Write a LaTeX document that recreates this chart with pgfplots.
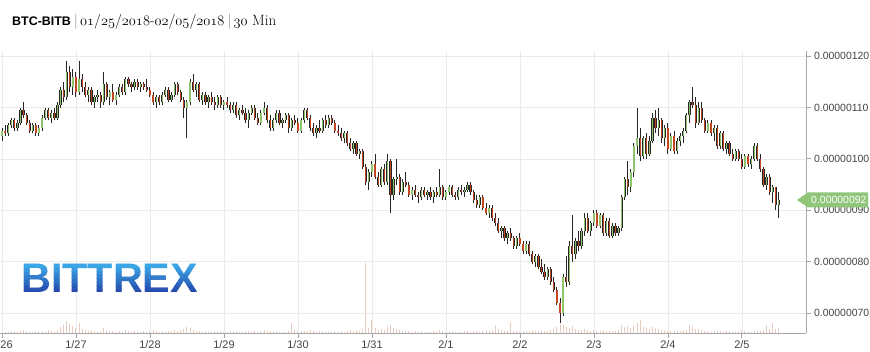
\documentclass[border=0pt]{standalone}
\usepackage{pgfplots}
\pgfplotsset{compat=1.18}
\usepackage{pgfplotstable}
\usepackage{fontspec}
\setsansfont{Liberation Sans}
\definecolor{gridc}{HTML}{EBEBEB}
\definecolor{axisc}{HTML}{A6A6A6}
\definecolor{labc}{HTML}{444444}
\definecolor{wick}{HTML}{262626}
\definecolor{upc}{HTML}{8CC36B}
\definecolor{dnc}{HTML}{C2461F}
\definecolor{volc}{HTML}{E6CBBE}
\definecolor{tagc}{HTML}{8FC67A}
\definecolor{logotop}{HTML}{3BA6E6}
\definecolor{logobot}{HTML}{2549AC}
\newcommand\osn[1]{$\mathnormal{#1}$}

\pgfplotstableread{
t o hi lo c v
0 104.5 106 103.5 105.5 2
1 105.5 106.5 104.5 105 1
2 105 107 104.5 106.5 1
3 106.5 108 106 107.5 2
4 107.5 108 105.5 106 1
5 106 107.5 105.5 107 1
6 107 110 106.5 109.5 2
7 109.5 111 108 108.5 3
8 108.5 109 106.5 107 2
9 107 107.5 105 105.5 1
10 105.5 107 105 106.5 1
11 106.5 107 104.5 105 2
12 105 106.5 104.5 106 1
13 106 108.5 105.5 108 2
14 108 110 107.5 109.5 1
15 109.5 110 107.5 108 3
16 108 109.5 107 109 2
17 109 110 107.5 108 1
18 108 111 107.5 110.5 3
19 110.5 114 110 113.5 6
20 113.5 115 111 112 8
21 112 119 111.5 117 12
22 117 118 113 114 9
23 114 117.5 112.5 116 7
24 116 117 112 113 5
25 113 119 112.5 115.5 10
26 115.5 116.5 113 114 4
27 114 115 112 112.5 3
28 112.5 114 111 113.5 2
29 113.5 114 110.5 111 3
30 111 112.5 110 112 2
31 112 113.5 111 112.5 1
32 112.5 113 110 111 2
33 111 117 110.5 114.5 5
34 114.5 115 111.5 112 3
35 112 113.5 110.5 113 2
36 113 114.5 111 111.5 2
37 111.5 113 110.5 112.5 1
38 112.5 114.5 112 114 2
39 114 114.5 112.5 113 1
40 113 116 112.5 115.5 3
41 115.5 116 114 114.5 2
42 114.5 115 113 114 1
43 114 115.5 113.5 115 2
44 115 115.5 113.5 114 1
45 114 115 113 114.5 1
46 114.5 115 113.5 114 2
47 114 115.5 113 113.5 1
48 113.5 114 112 112.5 2
49 112.5 113 110.5 111 3
50 111 112.5 110 112 2
51 112 112.5 110.5 111 1
52 111 113 110.5 112.5 2
53 112.5 114 112 113.5 1
54 113.5 114 111 111.5 2
55 111.5 113 111 112.5 2
56 112.5 115 112 114.5 3
57 114.5 115 112.5 113 2
58 113 113.5 111 111.5 3
59 111.5 112 108 110 4
60 110 111.5 104 111 6
61 111 115.5 110.5 115 5
62 115 116.5 113 113.5 3
63 113.5 115 112 114.5 2
64 114.5 115 111 111.5 2
65 111.5 113 110.5 112.5 1
66 112.5 113 110.5 111 2
67 111 112.5 110 112 1
68 112 113 110.5 111 1
69 111 112 109.5 110.5 2
70 110.5 112.5 110 112 1
71 112 112.5 110 110.5 2
72 110.5 111.5 109.5 111 1
73 111 112 110 110.5 1
74 110.5 111 109 109.5 2
75 109.5 111 109 110.5 1
76 110.5 111 108 108.5 2
77 108.5 110 107.5 109.5 1
78 109.5 110.5 108.5 109 1
79 109 110 107 107.5 2
80 107.5 109.5 106 109 2
81 109 110.5 108.5 110 1
82 110 110.5 107.5 108 2
83 108 109 106.5 107 1
84 107 109.5 106.5 109 2
85 109 111 108.5 110 3
86 110 110.5 107 107.5 2
87 107.5 108.5 105.5 106 2
88 106 108 105.5 107.5 1
89 107.5 109.5 107 109 2
90 109 109.5 106.5 107 1
91 107 108 106 107.5 1
92 107.5 109 107 108.5 1
93 108.5 109 105 106 2
94 106 108 105.5 107.5 10
95 107.5 108.5 106.5 107 3
96 107 108 105 105.5 2
97 105.5 108 105 107.5 2
98 107.5 110 107 109.5 2
99 109.5 110 107.5 108 2
100 108 108.5 105.5 106 3
101 106 107 104.5 105 2
102 105 106.5 104 106 1
103 106 107.5 105 105.5 2
104 105.5 108 105 107.5 2
105 107.5 108.5 106 106.5 1
106 106.5 108.5 106 108 1
107 108 108.5 106.5 107 1
108 107 107.5 105 105.5 2
109 105.5 106.5 104.5 105 1
110 105 106 103.5 104 2
111 104 105.5 103 105 1
112 105 105.5 102.5 103 2
113 103 104 101.5 102 3
114 102 103.5 101 103 2
115 103 103.5 100.5 101 3
116 101 102 100 101.5 2
117 101.5 102 98 98.5 4
118 98.5 99 95 95.5 70
119 95.5 98 94 97.5 5
120 97.5 99.5 96.5 99 13
121 99 101 96 96.5 5
122 96.5 97.5 94.5 95 3
123 95 98.5 94.5 98 4
124 98 99 95 95.5 3
125 95.5 101 95 99.5 6
126 99.5 100 89.5 93 8
127 93 96.5 92 96 5
128 96 100 95 96.5 4
129 96.5 97 93 93.5 3
130 93.5 96 93 95.5 2
131 95.5 97.5 94.5 95 2
132 95 95.5 92.5 93 2
133 93 94.5 92 94 1
134 94 95 92.5 93 2
135 93 93.5 91.5 92.5 1
136 92.5 94.5 92 94 2
137 94 94.5 92.5 93 1
138 93 94 92 93.5 1
139 93.5 94.5 92 92.5 1
140 92.5 94 91.5 93.5 2
141 93.5 94.5 92.5 93 1
142 93 98 92.5 94.5 3
143 94.5 95 92 92.5 2
144 92.5 94 92 93.5 1
145 93.5 95 93 94.5 1
146 94.5 95 92.5 93 2
147 93 93.5 92 92.5 1
148 92.5 94.5 92 94 1
149 94 95 93 93.5 1
150 93.5 94.5 92.5 94 2
151 94 95.5 93.5 95 2
152 95 95.5 93 93.5 1
153 93.5 94 91.5 92 2
154 92 93 90.5 91 2
155 91 93 90.5 92.5 1
156 92.5 93 90 90.5 2
157 90.5 91.5 89 89.5 3
158 89.5 91 88.5 90.5 2
159 90.5 91 88 88.5 3
160 88.5 89.5 87 87.5 8
161 87.5 88.5 85.5 86 4
162 86 87 84.5 86.5 3
163 86.5 87 84 84.5 2
164 84.5 86 83.5 85.5 2
165 85.5 86.5 84 84.5 11
166 84.5 85 82.5 83 2
167 83 85 82.5 84.5 2
168 84.5 85.5 83 83.5 1
169 83.5 84 81.5 82 2
170 82 84 81.5 83.5 2
171 83.5 84 81 81.5 2
172 81.5 82 79.5 80 3
173 80 81.5 79 81 2
174 81 81.5 78.5 79 2
175 79 80.5 77.5 78 3
176 78 79.5 76.5 77 2
177 77 79 76.5 78.5 2
178 78.5 79 75.5 76 3
179 76 77 74 74.5 4
180 74.5 75 71.5 72 6
181 72 73 68 70 9
182 70 77.5 69.5 77 8
183 77 81 75 76 6
184 76 84 75.5 83 5
185 83 89 80 81.5 7
186 81.5 84.5 80.5 84 4
187 84 86 82 83 3
188 83 86.5 82.5 86 3
189 86 89.5 85 88.5 4
190 88.5 89.5 85.5 86 3
191 86 88 85 87.5 2
192 87.5 90 87 89.5 3
193 89.5 90 86.5 87 2
194 87 89.5 86.5 89 2
195 89 89.5 85 85.5 3
196 85.5 88.5 85 88 2
197 88 88.5 84.5 85 2
198 85 87.5 84.5 87 2
199 87 87.5 85 85.5 2
200 85.5 87 85 86.5 3
201 86.5 93 86 92.5 8
202 92.5 96.5 92 96 6
203 96 99.5 93 94.5 7
204 94.5 98 93.5 97.5 5
205 97.5 103 96.5 102.5 7
206 102.5 110 101 104 10
207 104 106 99.5 100.5 13
208 100.5 104.5 100 104 6
209 104 105 100 101 5
210 101 104.5 100.5 103.5 4
211 103.5 109 103 108 6
212 108 109.5 105 106 5
213 106 110 104.5 107.5 4
214 107.5 108 103 104 3
215 104 106.5 102.5 106 3
216 106 107 101 102 2
217 102 105 101.5 104.5 2
218 104.5 105.5 101 101.5 2
219 101.5 104 101 103.5 2
220 103.5 105 102.5 104.5 2
221 104.5 106 103 105.5 3
222 105.5 109 105 108.5 3
223 108.5 111.5 107 111 8
224 111 114 110 110.5 6
225 110.5 112 106 107 4
226 107 111 106.5 110 4
227 110 111 107 107.5 3
228 107.5 108 105 105.5 2
229 105.5 107.5 105 107 2
230 107 107.5 104.5 105 1
231 105 106.5 103.5 106 2
232 106 106.5 102 102.5 2
233 102.5 105.5 102 105 2
234 105 105.5 101.5 102 1
235 102 103.5 101 103 2
236 103 103.5 100.5 101 2
237 101 102 99.5 100 1
238 100 102 99.5 101.5 1
239 101.5 102 99.5 100 2
240 100 101 98 98.5 3
241 98.5 101 98 100.5 2
242 100.5 101 98.5 99 1
243 99 100.5 98 100 1
244 100 103 99.5 102.5 2
245 102.5 103 99.5 100 2
246 100 101 97.5 98 2
247 98 98.5 94.5 95 3
248 95 97 94 96.5 8
249 96.5 97 93 93.5 4
250 93.5 95 91.5 94.5 10
251 94.5 94.5 90 91 4
252 91 93.5 88.5 92 5
}\candles

\begin{document}
\begin{tikzpicture}
\useasboundingbox (0bp,0bp) rectangle (870bp,352bp);
% volume
\begin{axis}[
  at={(0bp,19bp)}, anchor=south west, scale only axis,
  width=806bp, height=282bp,
  xmin=-0.65, xmax=260.8, ymin=0, ymax=282, hide axis]
\addplot[ycomb, volc, line width=1bp, mark=none] table[x=t, y=v] {\candles};
\end{axis}
% price
\begin{axis}[
  at={(0bp,19bp)}, anchor=south west, scale only axis,
  width=806bp, height=282bp,
  xmin=-0.65, xmax=260.8, ymin=66.1, ymax=121,
  axis x line*=bottom, axis y line*=right,
  axis line style={axisc, line width=0.8bp},
  xtick={0,24,...,240},
  xticklabels={1/26,1/27,1/28,1/29,1/30,1/31,2/1,2/2,2/3,2/4,2/5},
  ytick={70,80,...,120},
  yticklabels={0.00000070,0.00000080,0.00000090,0.00000100,0.00000110,0.00000120},
  grid=major, grid style={gridc, line width=0.6bp},
  tick align=outside, major tick length=4.5bp,
  tick style={axisc, line width=0.8bp},
  xticklabel style={font=\sffamily\fontsize{11}{12}\selectfont, text=labc},
  yticklabel style={font=\sffamily\fontsize{10.5}{12}\selectfont, text=labc},
]
% wicks
\addplot[draw=none, mark=none, forget plot,
  error bars/.cd, y dir=plus, y explicit, error mark=none,
  error bar style={draw=wick, line width=1bp}]
  table[x=t, y=lo, y error plus expr={\thisrow{hi}-\thisrow{lo}}] {\candles};
% body outlines
\addplot[draw=none, mark=none, forget plot,
  error bars/.cd, y dir=plus, y explicit, error mark=none,
  error bar style={draw=wick, line width=2.2bp}]
  table[x=t, y expr={min(\thisrow{o},\thisrow{c})},
        y error plus expr={abs(\thisrow{c}-\thisrow{o})}] {\candles};
% up bodies
\addplot[draw=none, mark=none, forget plot, restrict y to domain=0:500,
  error bars/.cd, y dir=plus, y explicit, error mark=none,
  error bar style={draw=upc, line width=1.2bp}]
  table[x=t, y expr={\thisrow{c}>=\thisrow{o} ? \thisrow{o} : -1000},
        y error plus expr={\thisrow{c}-\thisrow{o}}] {\candles};
% down bodies
\addplot[draw=none, mark=none, forget plot, restrict y to domain=0:500,
  error bars/.cd, y dir=plus, y explicit, error mark=none,
  error bar style={draw=dnc, line width=1.2bp}]
  table[x=t, y expr={\thisrow{c}<\thisrow{o} ? \thisrow{c} : -1000},
        y error plus expr={\thisrow{o}-\thisrow{c}}] {\candles};
\coordinate (tagpt) at (axis cs:260.8,92);
\end{axis}
% price tag
\fill[tagc] ([xshift=-9bp]tagpt) -- ([xshift=2bp,yshift=7.5bp]tagpt) -- ([xshift=62bp,yshift=7.5bp]tagpt)
  -- ([xshift=62bp,yshift=-7.5bp]tagpt) -- ([xshift=2bp,yshift=-7.5bp]tagpt) -- cycle;
\node[anchor=west, text=white, inner sep=0, font=\sffamily\fontsize{10.5}{12}\selectfont] at ([xshift=5bp]tagpt) {0.00000092};
% title
\node[anchor=base west, inner sep=0] at (12bp,326bp)
  {{\sffamily\bfseries\fontsize{12.5}{14}\selectfont BTC-BITB}\hspace{3bp}{\fontsize{15}{17}\selectfont\textcolor{gray}{|}\hspace{2bp}\osn{01}/\osn{25}/\osn{2018}-\osn{02}/\osn{05}/\osn{2018}\hspace{3bp}\textcolor{gray}{|}\hspace{2bp}\osn{30} Min}};
% logo
\foreach \i in {0,...,7}{
  \pgfmathtruncatemacro\pct{round(100*\i/7)}
  \pgfmathsetmacro\ya{\i==0 ? 40 : 59+\i*3.625}
  \pgfmathsetmacro\yb{\i==7 ? 100 : 59+(\i+1)*3.625}
  \begin{scope}
  \clip (0bp,\ya bp) rectangle (300bp,\yb bp);
  \node[anchor=base west, inner sep=0, text=logotop!\pct!logobot,
    font=\sffamily\bfseries\fontsize{41.5}{45}\selectfont] at (21bp,59bp) {BITTREX};
  \end{scope}
}
\end{tikzpicture}
\end{document}
